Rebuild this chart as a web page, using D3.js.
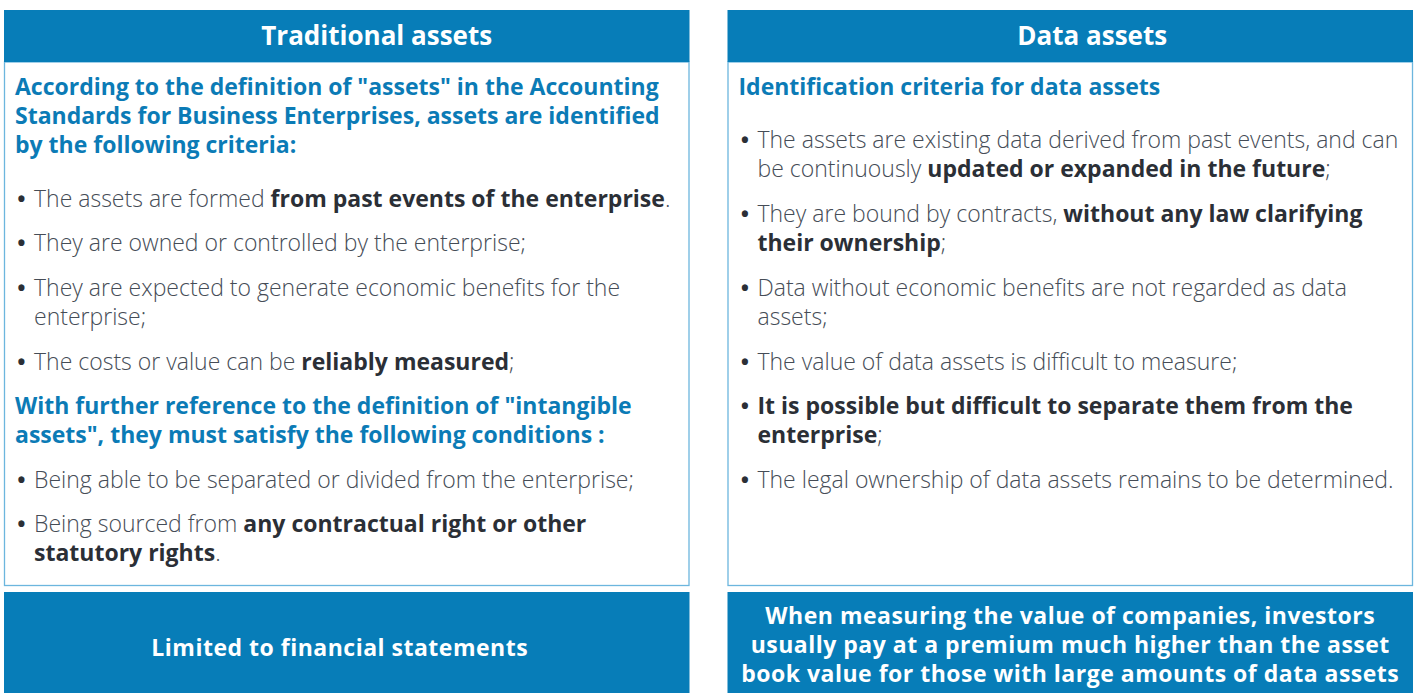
<!DOCTYPE html>
<html><head><meta charset="utf-8">
<script src="https://cdn.jsdelivr.net/npm/d3@7"></script>
<style>
html,body{margin:0;padding:0;background:#fff;overflow:hidden}
svg{display:block;font-family:"Open Sans",sans-serif}
</style></head><body>
<svg id="c" width="1417" height="693"></svg>
<script>
// ---- content ----
const panelTitles = ["Traditional assets", "Data assets"];
// each block: type 'h' heading (lines of text) or 'b' bullet (lines of segments [text, bold])
const leftBlocks = [
  {type:"h", lines:["According to the definition of \"assets\" in the Accounting","Standards for Business Enterprises, assets are identified","by the following criteria:"]},
  {type:"b", lines:[[["The assets are formed ",0],["from past events of the enterprise",1],[".",0]]]},
  {type:"b", lines:[[["They are owned or controlled by the enterprise;",0]]]},
  {type:"b", lines:[[["They are expected to generate economic benefits for the",0]],[["enterprise;",0]]]},
  {type:"b", lines:[[["The costs or value can be ",0],["reliably measured",1],[";",0]]]},
  {type:"h", lines:["With further reference to the definition of \"intangible","assets\", they must satisfy the following conditions :"]},
  {type:"b", lines:[[["Being able to be separated or divided from the enterprise;",0]]]},
  {type:"b", lines:[[["Being sourced from ",0],["any contractual right or other",1]],[["statutory rights",1],[".",0]]]}
];
const leftLineY = [[87,116,145],[199],[243],[288,317],[362],[406,435],[480],[524,553]];
const rightBlocks = [
  {type:"h", lines:["Identification criteria for data assets"]},
  {type:"b", lines:[[["The assets are existing data derived from past events, and can",0]],[["be continuously ",0],["updated or expanded in the future",1],[";",0]]]},
  {type:"b", lines:[[["They are bound by contracts, ",0],["without any law clarifying",1]],[["their ownership",1],[";",0]]]},
  {type:"b", lines:[[["Data without economic benefits are not regarded as data",0]],[["assets;",0]]]},
  {type:"b", lines:[[["The value of data assets is difficult to measure;",0]]]},
  {type:"b", lines:[[["It is possible but difficult to separate them from the",1]],[["enterprise",1],[";",0]]]},
  {type:"b", lines:[[["The legal ownership of data assets remains to be determined.",0]]]}
];
const rightLineY = [[87],[140,169],[214,243],[288,317],[362],[406,435],[480]];
const footers = [
  ["Limited to financial statements"],
  ["When measuring the value of companies, investors","usually pay at a premium much higher than the asset","book value for those with large amounts of data assets"]
];
const footerLineY = [[648],[616,645,674]];
const titleShift = [30, 22];
const footerShift = [-7, 0];

// ---- style ----
const BLUE = "#077db8", BORDER = "#6cb6de", HEAD = "#0b7bb6", BODY = "#454c56", BOLD = "#2b2f36";
const svg = d3.select("#c");
const px = d3.scaleBand().domain([0,1]).range([4,1413]).paddingInner(37/1409*2);
const W = px.bandwidth();
const panels = [{blocks:leftBlocks, ys:leftLineY},{blocks:rightBlocks, ys:rightLineY}];

panels.forEach((p,i)=>{
  const x0 = px(i);
  const g = svg.append("g");
  g.append("rect").attr("x",x0+0.5).attr("y",62).attr("width",W-1).attr("height",523.5)
    .attr("fill","#fff").attr("stroke",BORDER).attr("stroke-width",1.3);
  g.append("rect").attr("x",x0).attr("y",10).attr("width",W).attr("height",52).attr("fill",BLUE);
  g.append("text").attr("x",x0+W/2+titleShift[i]).attr("y",36).attr("dy","0.36em").attr("text-anchor","middle")
    .attr("fill","#fff").attr("font-weight",700).attr("font-size",26).text(panelTitles[i]);
  p.blocks.forEach((b,bi)=>{
    b.lines.forEach((ln,li)=>{
      const y = p.ys[bi][li];
      if(b.type==="h"){
        g.append("text").attr("x",x0+11).attr("y",y).attr("dy","0.36em")
          .attr("fill",HEAD).attr("font-weight",700).attr("font-size",23).text(ln);
      } else {
        if(li===0) g.append("text").attr("x",x0+17.5).attr("y",y).attr("dy","0.36em").attr("text-anchor","middle")
          .attr("fill",BOLD).attr("font-weight",700).attr("font-size",22).text("•");
        const t = g.append("text").attr("x",x0+30).attr("y",y).attr("dy","0.36em")
          .attr("font-size",23).attr("fill",BODY).attr("font-weight",300);
        t.selectAll("tspan").data(ln).join("tspan")
          .attr("font-weight",d=>d[1]?700:300).attr("fill",d=>d[1]?BOLD:BODY).text(d=>d[0]);
      }
    });
  });
  svg.append("rect").attr("x",x0).attr("y",592).attr("width",W).attr("height",110).attr("fill",BLUE);
  footers[i].forEach((ln,li)=>{
    svg.append("text").attr("x",x0+W/2+footerShift[i]).attr("y",footerLineY[i][li]).attr("dy","0.36em")
      .attr("text-anchor","middle").attr("fill","#fff").attr("font-weight",700).attr("font-size",23)
      .attr("letter-spacing",0.5).text(ln);
  });
});
</script></body></html>
